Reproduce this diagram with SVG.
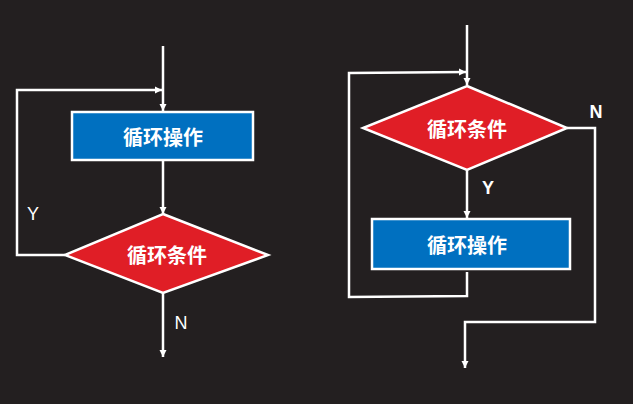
<svg xmlns="http://www.w3.org/2000/svg" width="633" height="404" viewBox="0 0 633 404">
<defs>
<marker id="ah" markerWidth="8" markerHeight="8" refX="7" refY="4" orient="auto" markerUnits="userSpaceOnUse">
<path d="M0,0.5 L7,4 L0,7.5 Z" fill="#ffffff"/>
</marker>
</defs>
<style>
.bg{fill:#231f20}
.box{fill:#0070c0;stroke:#ffffff;stroke-width:2.5}
.dia{fill:#e01e26;stroke:#ffffff;stroke-width:2.5}
.lbl{fill:#ffffff;font-family:"Noto Sans CJK SC","Liberation Sans",sans-serif;font-weight:bold;font-size:20px;text-anchor:middle;dominant-baseline:central}
.yn{fill:#ffffff;font-family:"Liberation Sans",sans-serif;font-size:18px;text-anchor:middle;dominant-baseline:central}
.ynb{font-weight:bold}
.ln{fill:none;stroke:#ffffff;stroke-width:2.5}
</style>
<rect class="bg" x="0" y="0" width="633" height="404"/>
<g id="connectors">
<path class="ln" d="M163,46 L163,111" marker-end="url(#ah)"/>
<path class="ln" d="M65,255 L17,255 L17,90 L162,90" marker-end="url(#ah)"/>
<path class="ln" d="M163,160 L163,214" marker-end="url(#ah)"/>
<path class="ln" d="M163,293 L163,357" marker-end="url(#ah)"/>
<path class="ln" d="M467,25 L467,85" marker-end="url(#ah)"/>
<path class="ln" d="M467,272 L467,296 L349,297 L349,73 L466,72" marker-end="url(#ah)"/>
<path class="ln" d="M467,170 L467,218" marker-end="url(#ah)"/>
<path class="ln" d="M567,128 L595,128 L595,322 L465,322 L465,368" marker-end="url(#ah)"/>
</g>
<g id="left-op">
<rect class="box" x="72" y="112" width="181" height="48"/>
<text class="lbl" x="163" y="136">循环操作</text>
</g>
<g id="left-cond">
<path class="dia" d="M163,214 L268,255 L163,293 L65,255 Z"/>
<text class="lbl" x="167" y="254">循环条件</text>
</g>
<g id="left-labels">
<text class="yn" x="33" y="214">Y</text>
<text class="yn" x="181" y="323">N</text>
</g>
<g id="right-cond">
<path class="dia" d="M467,86 L567,128 L467,170 L363,128 Z"/>
<text class="lbl" x="467" y="128">循环条件</text>
</g>
<g id="right-op">
<rect class="box" x="372" y="219" width="198" height="50"/>
<text class="lbl" x="467" y="244">循环操作</text>
</g>
<g id="right-labels">
<text class="yn ynb" x="488" y="188">Y</text>
<text class="yn ynb" x="596" y="112">N</text>
</g>
</svg>
